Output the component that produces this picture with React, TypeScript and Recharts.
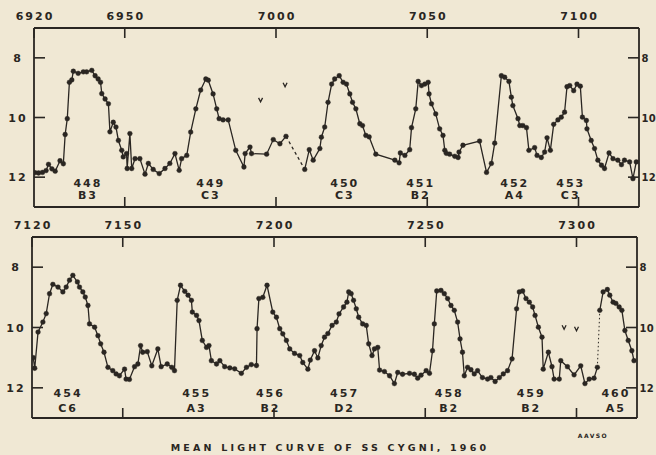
import React from 'react';
import { LineChart, Line, XAxis, YAxis, ReferenceDot } from 'recharts';

const INK = '#2a2622';
const PAPER = '#f0e8d4';
const FONT = '"DejaVu Sans", sans-serif';

// ---------- top panel (JD 2436920 - 2437120) ----------
const topTicks = [6920, 6950, 7000, 7050, 7100];
const topBottomTicks = [6950, 7000, 7050, 7100];
const magTicks = [8, 10, 12];

const topSeg1 = [
  [6920.3, 11.85], [6921.5, 11.86], [6922.8, 11.84], [6924.0, 11.78], [6924.8, 11.57], [6925.9, 11.72], [6927.0, 11.8],
  [6928.6, 11.45], [6929.7, 11.55], [6930.3, 10.57], [6931.0, 10.04], [6931.7, 8.82], [6932.5, 8.74], [6933.0, 8.45],
  [6934.6, 8.52], [6936.3, 8.47], [6937.4, 8.47], [6939.1, 8.42], [6940.2, 8.6], [6941.2, 8.71], [6942.0, 8.82],
  [6942.4, 9.2], [6943.5, 9.38], [6944.6, 9.54], [6945.1, 10.48], [6946.2, 10.16], [6947.1, 10.32], [6947.9, 10.77],
  [6949.0, 11.1], [6949.5, 11.32], [6950.6, 11.21], [6950.8, 11.71], [6951.7, 10.54], [6952.3, 11.71], [6953.4, 11.38],
  [6955.0, 11.38], [6956.7, 11.9], [6957.8, 11.54], [6959.4, 11.74], [6961.4, 11.88], [6963.3, 11.71], [6964.9, 11.54],
  [6966.6, 11.21], [6968.0, 11.77], [6968.8, 11.38], [6970.5, 11.27], [6971.8, 10.49], [6973.5, 9.71], [6975.1, 9.08],
  [6976.8, 8.71], [6977.6, 8.75], [6979.2, 9.21], [6980.4, 9.71], [6981.2, 10.04], [6982.5, 10.08], [6984.2, 10.08],
  [6986.7, 11.1], [6989.4, 11.66], [6989.8, 11.21], [6991.4, 10.99], [6991.9, 11.21], [6996.9, 11.23], [6999.1, 10.74],
  [7001.3, 10.88], [7003.3, 10.63],
];
const topDash = [[7003.3, 10.63], [7009.5, 11.74]];
const topSeg2 = [
  [7009.5, 11.74], [7011.0, 11.08], [7012.3, 11.43], [7014.5, 11.04], [7015.0, 10.66], [7016.1, 10.32], [7017.2, 9.49],
  [7018.4, 8.88], [7019.4, 8.71], [7020.9, 8.6], [7022.2, 8.82], [7023.3, 8.88], [7024.4, 9.21], [7025.3, 9.49],
  [7026.4, 9.71], [7027.7, 10.21], [7028.6, 10.27], [7029.7, 10.6], [7030.8, 10.65], [7033.0, 11.23], [7039.3, 11.43],
  [7040.7, 11.52], [7041.1, 11.19], [7042.6, 11.27], [7044.2, 11.08], [7044.8, 10.34], [7046.2, 9.71], [7047.0, 8.79],
  [7048.1, 8.93], [7049.2, 8.88], [7050.3, 8.82], [7050.6, 9.21], [7051.4, 9.54], [7052.8, 9.88], [7054.1, 10.38],
  [7055.2, 10.6], [7055.8, 11.1], [7056.3, 11.2], [7057.4, 11.23], [7059.1, 11.3], [7060.2, 11.34], [7060.5, 11.16],
  [7061.8, 10.93], [7067.3, 10.79], [7069.6, 11.84], [7071.2, 11.54], [7072.3, 10.86], [7074.5, 8.6], [7075.6, 8.65],
  [7077.0, 8.79], [7077.8, 9.32], [7078.3, 9.6], [7080.0, 10.04], [7080.6, 10.27], [7081.6, 10.27], [7082.8, 10.34],
  [7083.6, 11.1], [7085.5, 11.01], [7086.3, 11.27], [7087.7, 11.34], [7088.8, 11.16], [7089.6, 10.68], [7090.7, 11.1],
  [7091.8, 10.23], [7093.2, 10.08], [7094.3, 9.99], [7095.4, 9.82], [7096.2, 8.97], [7097.1, 8.93], [7098.4, 9.1],
  [7099.5, 8.88], [7100.6, 8.95], [7101.3, 9.99], [7102.6, 10.1], [7102.8, 10.38], [7104.2, 10.77], [7105.3, 11.04],
  [7106.4, 11.43], [7107.6, 11.6], [7108.6, 11.71], [7110.1, 11.19], [7111.4, 11.38], [7113.0, 11.43], [7114.2, 11.58],
  [7115.2, 11.43], [7116.9, 11.49], [7118.0, 12.05], [7119.1, 11.49],
];
const topLimits = [[6994.9, 9.41], [7003.0, 8.9]];
const topCycles = ['448', '449', '450', '451', '452', '453'];
const topTypes = ['B3', 'C3', 'C3', 'B2', 'A4', 'C3'];
const topCycleJD = [6937.5, 6978.1, 7022.4, 7047.5, 7078.6, 7097.1];

// ---------- bottom panel (JD 2437120 - 2437320) ----------
const botTicks = [7120, 7150, 7200, 7250, 7300];
const botBottomTicks = [7150, 7200, 7250, 7300];

const botSeg1 = [
  [7120.4, 11.0], [7120.9, 11.35], [7122.0, 10.15], [7123.6, 9.82], [7124.7, 9.54], [7125.8, 8.88], [7126.9, 8.57],
  [7128.6, 8.66], [7130.2, 8.82], [7131.3, 8.66], [7132.4, 8.43], [7133.5, 8.27], [7135.0, 8.49], [7135.7, 8.66],
  [7136.8, 8.82], [7137.6, 8.99], [7138.5, 9.27], [7139.0, 9.88], [7140.7, 9.99], [7141.8, 10.27], [7142.7, 10.54],
  [7143.8, 10.82], [7145.1, 11.32], [7146.7, 11.43], [7147.8, 11.54], [7148.9, 11.6], [7150.6, 11.38], [7151.1, 11.71],
  [7152.2, 11.72], [7153.9, 11.3], [7155.0, 11.21], [7155.9, 10.6], [7156.6, 10.82], [7158.1, 10.8], [7159.6, 11.27],
  [7161.6, 10.71], [7162.7, 11.3], [7164.7, 11.21], [7166.2, 11.32], [7167.1, 11.43], [7168.0, 9.1], [7169.1, 8.6],
  [7170.5, 8.8], [7171.6, 8.93], [7172.7, 9.1], [7173.0, 9.49], [7174.4, 9.6], [7175.2, 9.77], [7176.3, 10.43],
  [7177.7, 10.66], [7178.5, 10.6], [7179.3, 11.1], [7181.0, 11.21], [7182.1, 11.1], [7183.7, 11.3], [7185.4, 11.34],
  [7187.0, 11.37], [7189.2, 11.52], [7190.9, 11.32], [7192.5, 11.23], [7194.2, 11.26], [7194.4, 10.04], [7195.0, 9.04],
  [7196.3, 9.0], [7197.7, 8.6], [7199.6, 9.49], [7200.8, 9.66], [7201.9, 10.04], [7202.9, 10.21], [7204.1, 10.43],
  [7205.2, 10.71], [7206.8, 10.86], [7208.5, 10.93], [7209.5, 11.16], [7211.2, 11.38], [7212.0, 11.08], [7213.4, 10.77],
  [7214.5, 11.01], [7215.6, 10.6], [7216.7, 10.32], [7217.8, 10.2], [7219.2, 9.93], [7220.6, 9.82], [7221.5, 9.55],
  [7223.0, 9.32], [7224.1, 9.16], [7224.7, 8.82], [7225.5, 8.88], [7226.3, 9.1], [7227.2, 9.38], [7228.0, 9.66],
  [7229.3, 9.88], [7230.5, 9.93], [7231.3, 10.54], [7232.4, 10.93], [7233.2, 10.71], [7234.3, 10.66], [7234.9, 11.41],
  [7236.5, 11.46], [7238.2, 11.6], [7239.8, 11.86], [7240.9, 11.49], [7242.5, 11.55], [7244.8, 11.52], [7246.4, 11.55],
  [7247.5, 11.68], [7248.6, 11.58], [7250.3, 11.43], [7251.4, 11.52], [7252.4, 10.77], [7253.0, 9.88], [7253.8, 8.79],
  [7255.2, 8.77], [7256.3, 8.88], [7257.4, 9.04], [7258.5, 9.27], [7259.6, 9.43], [7260.7, 9.82], [7261.5, 10.38],
  [7262.3, 10.82], [7262.9, 11.6], [7264.0, 11.32], [7265.1, 11.4], [7266.2, 11.54], [7267.3, 11.43], [7268.9, 11.66],
  [7270.6, 11.71], [7271.7, 11.66], [7273.1, 11.79], [7274.5, 11.66], [7275.8, 11.54], [7277.2, 11.43], [7278.7, 11.04],
  [7280.2, 9.38], [7281.1, 8.82], [7282.2, 8.79], [7283.3, 9.04], [7284.4, 9.16], [7285.5, 9.32], [7286.3, 9.6],
  [7287.4, 9.99], [7288.6, 10.32], [7289.0, 11.38], [7290.7, 10.82], [7291.9, 11.3], [7292.6, 11.71], [7294.3, 11.71],
  [7294.8, 11.1], [7297.0, 11.3], [7299.2, 11.57], [7301.4, 11.27], [7302.8, 11.86], [7304.2, 11.71], [7305.8, 11.68],
  [7306.9, 11.32],
];
const botDot = [[7306.9, 11.32], [7307.7, 9.43]];
const botSeg2 = [
  [7307.7, 9.43], [7308.8, 8.82], [7310.2, 8.74], [7311.0, 8.93], [7312.1, 9.16], [7313.0, 9.2], [7314.1, 9.32],
  [7315.0, 9.43], [7316.0, 10.1], [7317.1, 10.43], [7318.3, 10.77], [7319.0, 11.1],
];
const botLimits = [[7295.9, 9.99], [7300.0, 10.04]];
const botCycles = ['454', '455', '456', '457', '458', '459', '460'];
const botTypes = ['C6', 'A3', 'B2', 'D2', 'B2', 'B2', 'A5'];
const botCycleJD = [7131.6, 7174.1, 7198.5, 7223.0, 7257.6, 7284.7, 7312.7];

const TITLE = 'MEAN LIGHT CURVE OF SS CYGNI, 1960';
const CREDIT = 'AAVSO';

type Pair = number[];
const pts = (a: Pair[]) => a.map(([jd, mag]) => ({ jd, mag }));

interface PanelProps {
  width: number;
  height: number;
  plot: { top: number; right: number; bottom: number; left: number };
  domain: [number, number];
  topTicks: number[];
  bottomTicks: number[];
  solid: Pair[][];
  broken: Pair[][];
  brokenDash: string;
  brokenWidth: number;
  limits: Pair[];
  cycles: string[];
  types: string[];
  cycleJD: number[];
  numMag: number;
  typeMag: number;
}

const txt = {
  fill: INK,
  fontFamily: FONT,
  fontWeight: 700,
  fontSize: 11,
  letterSpacing: 2,
};

function Panel(p: PanelProps) {
  // plot = desired plot-area edges (distance from svg edges)
  const L = p.plot.left;
  const R = p.width - p.plot.right;
  const T = p.plot.top;
  const B = p.height - p.plot.bottom;
  const AX = 1; // axis band size
  const margin = {
    top: p.plot.top - AX,
    bottom: p.plot.bottom - AX,
    left: p.plot.left - AX,
    right: p.plot.right - AX,
  };
  const frame = { stroke: INK, strokeWidth: 1.8 };

  const topTick = (t: any) => (
    <g>
      <line x1={t.x} x2={t.x} y1={T} y2={T + 10} stroke={INK} strokeWidth={1.6} />
      <text x={t.x + 1} y={T - 8.5} textAnchor="middle" {...txt}>
        {t.payload.value}
      </text>
    </g>
  );
  const bottomTick = (t: any) => (
    <line x1={t.x} x2={t.x} y1={B} y2={B - 10} stroke={INK} strokeWidth={1.6} />
  );
  const leftTick = (t: any) => (
    <g>
      <line x1={L} x2={L + 11} y1={t.y} y2={t.y} stroke={INK} strokeWidth={1.6} />
      <text x={L - 16} y={t.y + 4} textAnchor="middle" {...txt}>
        {t.payload.value}
      </text>
    </g>
  );
  const rightTick = (t: any) => (
    <g>
      <line x1={R} x2={R - 11} y1={t.y} y2={t.y} stroke={INK} strokeWidth={1.6} />
      <text
        x={R + 2.5}
        y={t.y + 4}
        textAnchor="start"
        {...txt}
        fontSize={10}
        letterSpacing={0.3}
      >
        {t.payload.value}
      </text>
    </g>
  );

  return (
    <LineChart width={p.width} height={p.height} margin={margin}>
      <XAxis
        xAxisId="t"
        orientation="top"
        type="number"
        dataKey="jd"
        domain={p.domain}
        ticks={p.topTicks}
        interval={0}
        height={AX}
        allowDataOverflow
        axisLine={frame}
        tickLine={false}
        tick={topTick}
      />
      <XAxis
        xAxisId="b"
        orientation="bottom"
        type="number"
        dataKey="jd"
        domain={p.domain}
        ticks={p.bottomTicks}
        interval={0}
        height={AX}
        allowDataOverflow
        axisLine={frame}
        tickLine={false}
        tick={bottomTick}
      />
      <YAxis
        yAxisId="l"
        orientation="left"
        type="number"
        domain={[7, 13]}
        reversed
        ticks={magTicks}
        interval={0}
        width={AX}
        allowDataOverflow
        axisLine={frame}
        tickLine={false}
        tick={leftTick}
      />
      <YAxis
        yAxisId="r"
        orientation="right"
        type="number"
        domain={[7, 13]}
        reversed
        ticks={magTicks}
        interval={0}
        width={AX}
        allowDataOverflow
        axisLine={frame}
        tickLine={false}
        tick={rightTick}
      />
      {p.solid.map((s, i) => (
        <Line
          key={'s' + i}
          xAxisId="t"
          yAxisId="l"
          data={pts(s)}
          dataKey="mag"
          type="linear"
          stroke={INK}
          strokeWidth={1.3}
          dot={{ r: 2.4, fill: INK, stroke: INK, strokeWidth: 0.4 }}
          activeDot={false}
          isAnimationActive={false}
        />
      ))}
      {p.broken.map((s, i) => (
        <Line
          key={'d' + i}
          xAxisId="t"
          yAxisId="l"
          data={pts(s)}
          dataKey="mag"
          type="linear"
          stroke={INK}
          strokeWidth={p.brokenWidth}
          strokeDasharray={p.brokenDash}
          dot={false}
          activeDot={false}
          isAnimationActive={false}
        />
      ))}
      {p.limits.map(([jd, mag], i) => (
        <ReferenceDot
          key={'v' + i}
          xAxisId="t"
          yAxisId="l"
          x={jd}
          y={mag}
          r={2}
          shape={(s: any) => (
            <path
              d={`M${s.cx - 2},${s.cy - 2} L${s.cx},${s.cy + 2} L${s.cx + 2},${s.cy - 2}`}
              fill="none"
              stroke={INK}
              strokeWidth={1.3}
            />
          )}
        />
      ))}
      {p.cycles.map((c, i) => (
        <ReferenceDot
          key={'c' + i}
          xAxisId="t"
          yAxisId="l"
          x={p.cycleJD[i]}
          y={p.numMag}
          r={1}
          shape={(s: any) => (
            <text x={s.cx + 1} y={s.cy} dominantBaseline="central" textAnchor="middle" {...txt}>
              {c}
            </text>
          )}
        />
      ))}
      {p.types.map((c, i) => (
        <ReferenceDot
          key={'k' + i}
          xAxisId="t"
          yAxisId="l"
          x={p.cycleJD[i]}
          y={p.typeMag}
          r={1}
          shape={(s: any) => (
            <text x={s.cx + 1} y={s.cy} dominantBaseline="central" textAnchor="middle" {...txt}>
              {c}
            </text>
          )}
        />
      ))}
    </LineChart>
  );
}

export default function App() {
  return (
    <div
      style={{
        position: 'absolute',
        left: 0,
        top: 0,
        width: 656,
        height: 455,
        background: PAPER,
        overflow: 'hidden',
      }}
    >
      <div style={{ position: 'absolute', left: 0, top: 0 }}>
        <Panel
          width={656}
          height={215}
          plot={{ top: 28, right: 17, bottom: 8, left: 34 }}
          domain={[6920, 7120]}
          topTicks={topTicks}
          bottomTicks={topBottomTicks}
          solid={[topSeg1, topSeg2]}
          broken={[topDash]}
          brokenDash="3 3"
          brokenWidth={1.3}
          limits={topLimits}
          cycles={topCycles}
          types={topTypes}
          cycleJD={topCycleJD}
          numMag={12.2}
          typeMag={12.62}
        />
      </div>
      <div style={{ position: 'absolute', left: 0, top: 215 }}>
        <Panel
          width={656}
          height={240}
          plot={{ top: 22, right: 19, bottom: 37, left: 32 }}
          domain={[7120, 7320]}
          topTicks={botTicks}
          bottomTicks={botBottomTicks}
          solid={[botSeg1, botSeg2]}
          broken={[botDot]}
          brokenDash="1.5 2.5"
          brokenWidth={1}
          limits={botLimits}
          cycles={botCycles}
          types={botTypes}
          cycleJD={botCycleJD}
          numMag={12.2}
          typeMag={12.7}
        />
      </div>
      <svg
        width={656}
        height={455}
        style={{ position: 'absolute', left: 0, top: 0, pointerEvents: 'none' }}
      >
        <text
          x={330}
          y={451}
          textAnchor="middle"
          fill={INK}
          fontFamily={FONT}
          fontWeight={700}
          fontSize={9.5}
          letterSpacing={3.2}
        >
          {TITLE}
        </text>
        <text
          x={593}
          y={438}
          textAnchor="middle"
          fill={INK}
          fontFamily={FONT}
          fontWeight={700}
          fontSize={6}
          letterSpacing={1.5}
        >
          {CREDIT}
        </text>
      </svg>
    </div>
  );
}
